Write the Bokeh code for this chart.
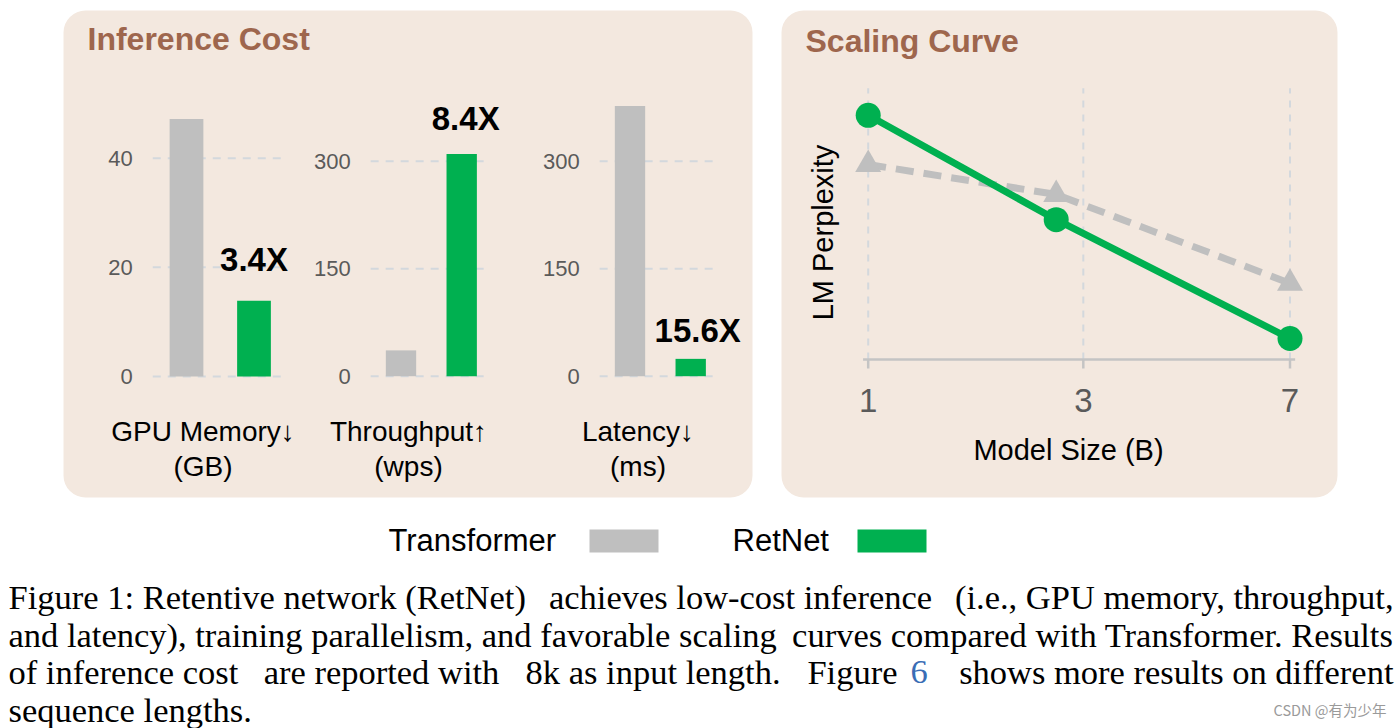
import numpy as np
from bokeh.plotting import figure
from bokeh.models import Range1d, BoxAnnotation
from bokeh.core.properties import value
from bokeh.embed import file_html
from bokeh.resources import INLINE

# ---------------- data ----------------
series = ["Transformer", "RetNet"]
gpu_memory = [47.2, 13.9]      # GB
throughput = [36.0, 310.0]     # words per second
latency = [377.0, 24.2]        # ms
speedups = ["3.4X", "8.4X", "15.6X"]
metric_names = ["GPU Memory\u2193", "Throughput\u2191", "Latency\u2193"]
metric_units = ["(GB)", "(wps)", "(ms)"]
mem_ticks = [0, 20, 40]
thr_ticks = [0, 150, 300]
lat_ticks = [0, 150, 300]

model_sizes = [1.3, 2.7, 6.7]          # B
size_ticks = [1.3, 3.0, 6.7]
size_tick_labels = ["1", "3", "7"]
ppl_transformer = [13.25, 12.75, 11.27]   # relative LM perplexity (no scale shown)
ppl_retnet = [14.07, 12.33, 10.35]

caption = [
    "Figure 1: Retentive network (RetNet) achieves low-cost inference (i.e., GPU memory, throughput,",
    "and latency), training parallelism, and favorable scaling curves compared with Transformer. Results",
    "of inference cost are reported with 8k as input length.  Figure 6 shows more results on different",
    "sequence lengths.",
]
watermark = "CSDN @\u6709\u4e3a\u5c11\u5e74"

# ---------------- style ----------------
W, H = 1399, 728
SANS = "Liberation Sans"
SERIF = "Liberation Serif"
PANEL = "#f3e8df"
TITLE = "#9e664d"
GRAY = "#bfbfbf"
GREEN = "#00b050"
GRID = "#d3d8dd"
TICK = "#5a5a5a"


def x_range_from(v0, px0, v1, px1):
    s = (px1 - px0) / (v1 - v0)
    start = v0 - px0 / s
    return Range1d(start=start, end=start + W / s)


def y_range_from(v0, py0, v1, py1):
    a, b = H - py0, H - py1
    s = (b - a) / (v1 - v0)
    start = v0 - a / s
    return Range1d(start=start, end=start + H / s)


p = figure(width=W, height=H, x_range=Range1d(0, W), y_range=Range1d(H, 0),
           x_axis_location=None, y_axis_location=None, toolbar_location=None,
           output_backend="svg", min_border=0, outline_line_color=None,
           background_fill_color="white", border_fill_color="white")
p.grid.visible = False

# panels
for l, r in [(63, 752), (781, 1337)]:
    p.add_layout(BoxAnnotation(left=l, right=r, top=10, bottom=497,
                               fill_color=PANEL, fill_alpha=1.0, line_color=None,
                               border_radius=22, level="underlay"))

TXT = dict(text_font=value(SANS), text_baseline="middle")
p.text(x=[87], y=[38.5], text=["Inference Cost"], text_font_size="32px",
       text_font_style="bold", text_color=TITLE, text_align="left", **TXT)
p.text(x=[805], y=[40.5], text=["Scaling Curve"], text_font_size="32px",
       text_font_style="bold", text_color=TITLE, text_align="left", **TXT)

# ---------------- inference cost bar charts ----------------
metrics = [gpu_memory, throughput, latency]
ticks_all = [mem_ticks, thr_ticks, lat_ticks]
bar_centers = [(186, 253.5), (400.5, 461.2), (629.5, 690.2)]
zero_px = [376, 375.7, 375.7]
top_px = [157.7, 160.7, 160.7]
label_dx = [0, 4, 7]
label_dy = [-41.5, -36, -28]
name_cx = [202.5, 408, 637.5]

for i, (vals, ticks) in enumerate(zip(metrics, ticks_all)):
    xn, yn = f"bx{i}", f"by{i}"
    p.extra_x_ranges[xn] = x_range_from(0, bar_centers[i][0], 1, bar_centers[i][1])
    p.extra_y_ranges[yn] = y_range_from(0, zero_px[i], ticks[-1], top_px[i])
    p.segment(x0=-0.5, x1=1.43, y0=ticks, y1=ticks, line_color=GRID, line_width=2,
              line_dash="8 7", x_range_name=xn, y_range_name=yn)
    p.text(x=-0.5, y=ticks, text=[str(t) for t in ticks], x_offset=-20,
           text_align="right", text_font_size="22px", text_color=TICK,
           x_range_name=xn, y_range_name=yn, **TXT)
    p.vbar(x=[0, 1], top=vals, bottom=0, width=0.5, fill_color=[GRAY, GREEN],
           line_color=None, x_range_name=xn, y_range_name=yn)
    p.text(x=[1], y=[vals[1]], text=[speedups[i]], x_offset=label_dx[i], y_offset=label_dy[i],
           text_align="center", text_font_size="33px", text_font_style="bold",
           text_color="black", x_range_name=xn, y_range_name=yn, **TXT)
    p.text(x=[name_cx[i]], y=[431], text=[metric_names[i]], text_align="center",
           text_font_size="28px", text_color="black", **TXT)
    p.text(x=[name_cx[i]], y=[466], text=[metric_units[i]], text_align="center",
           text_font_size="28px", text_color="black", **TXT)

# ---------------- scaling curve ----------------
lx = np.log(model_sizes)
ltick = np.log(size_ticks)
p.extra_x_ranges["sx"] = x_range_from(np.log(1.3), 867.7, np.log(6.7), 1289.5)
p.extra_y_ranges["sy"] = y_range_from(10.0, 359, 14.0, 119)
ylo, yhi = 10.0, 14.52

p.segment(x0=ltick, x1=ltick, y0=ylo, y1=yhi, line_color=GRID, line_width=2,
          line_dash="7 7", x_range_name="sx", y_range_name="sy")
p.segment(x0=[ltick[0] - 0.02], x1=[ltick[-1] + 0.02], y0=[ylo], y1=[ylo],
          line_color="#c4c4c4", line_width=2.5, x_range_name="sx", y_range_name="sy")
p.segment(x0=ltick, x1=ltick, y0=359, y1=368, line_color="#c4c4c4",
          line_width=2.5, x_range_name="sx")
p.text(x=ltick, y=400, text=size_tick_labels, text_align="center",
       text_font_size="33px", text_color=TICK, x_range_name="sx", **TXT)

p.line(x=lx, y=ppl_transformer, line_color=GRAY, line_width=7, line_dash="18 10",
       x_range_name="sx", y_range_name="sy")
p.scatter(x=lx, y=ppl_transformer, marker="triangle", size=26, fill_color=GRAY,
          line_color=None, x_range_name="sx", y_range_name="sy")
p.line(x=lx, y=ppl_retnet, line_color=GREEN, line_width=7,
       x_range_name="sx", y_range_name="sy")
p.scatter(x=lx, y=ppl_retnet, marker="circle", size=25, fill_color=GREEN,
          line_color=None, x_range_name="sx", y_range_name="sy")

p.text(x=[1068], y=[449], text=["Model Size (B)"], text_align="center",
       text_font_size="29px", text_color="black", **TXT)
p.text(x=[822], y=[232], text=["LM Perplexity"], angle=np.pi / 2, text_align="center",
       text_font_size="29px", text_color="black", **TXT)

# ---------------- legend ----------------
for name, color, tx, bx in [(series[0], GRAY, 388, 589), (series[1], GREEN, 732, 857)]:
    p.text(x=[tx], y=[540], text=[name], text_align="left",
           text_font_size="31px", text_color="black", **TXT)
    p.quad(left=[bx], right=[bx + 69], top=[529], bottom=[552],
           fill_color=color, line_color=None)

# ---------------- caption ----------------
rows = [596.5, 634.2, 671.8, 709.0]
FS = "34.5px"
CAP = dict(text_font=value(SERIF), text_font_size=FS, text_color="black",
           text_baseline="middle")
LEFT, RIGHT = 8, 1393
w1 = caption[0].split(" ")
w2 = caption[1].split(" ")
# line 1 (justified): three chunks
p.text(x=[LEFT], y=[rows[0]], text=[" ".join(w1[:5])], text_align="left", **CAP)
p.text(x=[740], y=[rows[0]], text=[" ".join(w1[5:8])], text_align="center", **CAP)
p.text(x=[RIGHT], y=[rows[0]], text=[" ".join(w1[8:])], text_align="right", **CAP)
# line 2 (justified): two chunks
p.text(x=[LEFT], y=[rows[1]], text=[" ".join(w2[:7])], text_align="left", **CAP)
p.text(x=[RIGHT], y=[rows[1]], text=[" ".join(w2[7:])], text_align="right", **CAP)
# line 3 (justified, with a blue reference number)
l3a, l3b = caption[2].split(" 6 ")
l3a1, l3a2 = l3a.split("  ")
w3 = l3a1.split(" ")
p.text(x=[LEFT], y=[rows[2]], text=[" ".join(w3[:3])], text_align="left", **CAP)
p.text(x=[381], y=[rows[2]], text=[" ".join(w3[3:6])], text_align="center", **CAP)
p.text(x=[780], y=[rows[2]], text=[" ".join(w3[6:])], text_align="right", **CAP)
p.text(x=[897], y=[rows[2]], text=[l3a2], text_align="right", **CAP)
p.text(x=[910], y=[rows[2]], text=["6"], text_align="left",
       text_font=value(SERIF), text_font_size=FS, text_color="#3a6db5",
       text_baseline="middle")
p.text(x=[RIGHT], y=[rows[2]], text=[l3b], text_align="right", **CAP)
# line 4
p.text(x=[LEFT], y=[rows[3]], text=[caption[3]], text_align="left", **CAP)

p.text(x=[1386], y=[709], text=[watermark], text_align="right", text_baseline="middle",
       text_font=value("Noto Sans CJK SC"), text_font_size="14.5px", text_color="#9a9a9a")

open("out.html", "w").write(file_html(p, INLINE, "plot"))
